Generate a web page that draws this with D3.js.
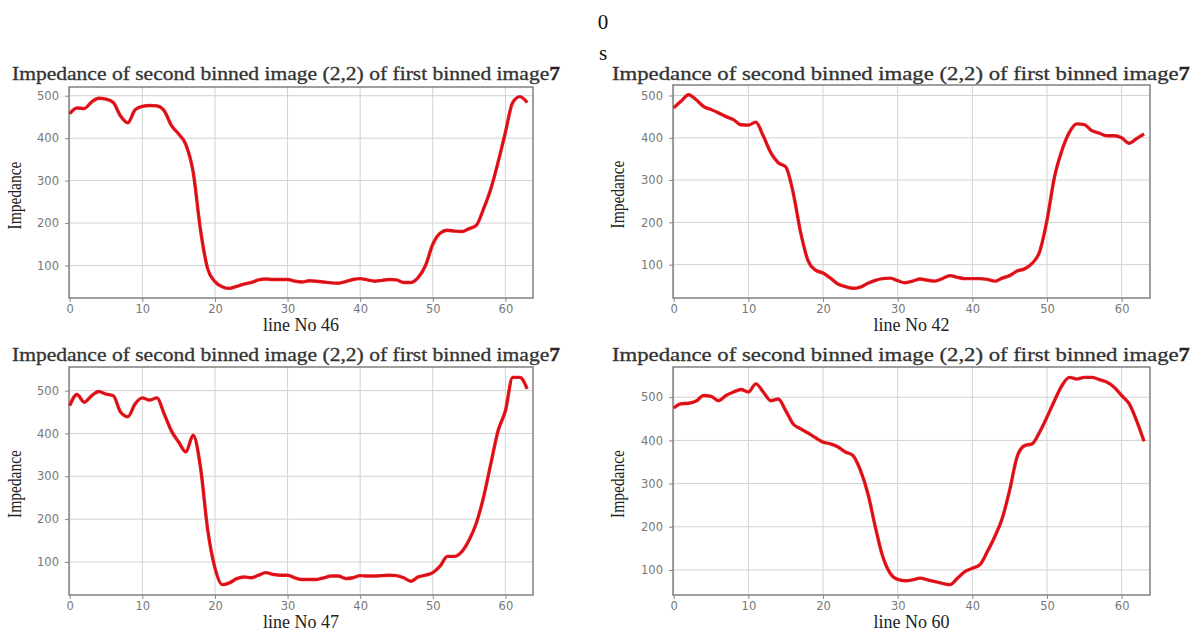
<!DOCTYPE html>
<html>
<head>
<meta charset="utf-8">
<script src="https://cdn.jsdelivr.net/npm/d3@7"></script>
<style>
  body { margin: 0; background: #fff; }
  svg { display: block; }
</style>
</head>
<body>
<svg id="chart" width="1203" height="637"></svg>
<script>
// impedance per line index (0..63)
const line46 = [458, 471, 470, 485, 494, 492, 484, 452, 436, 467, 475, 477, 476, 465, 430, 410, 385, 320, 185, 92, 62, 50, 46, 51, 56, 60, 66, 68, 67, 67, 67, 63, 61, 64, 63, 61, 59, 58, 62, 67, 69, 66, 63, 65, 67, 66, 60, 60, 72, 100, 150, 176, 183, 181, 180, 187, 195, 234, 281, 344, 414, 484, 498, 484]
const line42 = [471, 487, 502, 490, 474, 467, 459, 450, 443, 431, 430, 437, 404, 365, 341, 331, 270, 176, 109, 87, 80, 68, 54, 48, 44, 47, 56, 63, 67, 68, 62, 57, 61, 66, 63, 61, 67, 74, 70, 67, 67, 67, 65, 61, 68, 74, 85, 90, 103, 130, 205, 307, 370, 413, 433, 431, 417, 411, 405, 405, 400, 387, 398, 409]
const line47 = [465, 491, 473, 488, 498, 492, 488, 450, 439, 469, 483, 478, 483, 446, 406, 380, 357, 396, 322, 175, 86, 47, 51, 61, 65, 63, 69, 75, 71, 69, 69, 63, 59, 59, 59, 63, 67, 67, 61, 63, 68, 67, 67, 68, 69, 68, 63, 55, 65, 69, 75, 90, 113, 113, 124, 151, 191, 252, 330, 407, 453, 531, 531, 504]
const line60 = [475, 485, 486, 491, 504, 502, 492, 504, 512, 518, 512, 531, 512, 492, 496, 469, 438, 427, 417, 406, 396, 392, 385, 373, 365, 331, 277, 200, 131, 92, 78, 75, 77, 81, 77, 73, 69, 66, 81, 96, 104, 112, 142, 177, 219, 285, 362, 388, 392, 419, 454, 492, 527, 546, 542, 546, 546, 541, 535, 523, 504, 485, 446, 398]

const lineNames = ["line No 46", "line No 42", "line No 47", "line No 60"]
const xTicks = [0, 10, 20, 30, 40, 50, 60]
const yTicks = [100, 200, 300, 400, 500]
const titleText = "Impedance of second binned image (2,2) of first binned image"

// plot boxes, one per panel (top-left, top-right, bottom-left, bottom-right)
const layout = [
    { x0: 69, x1: 533, y0: 87, y1: 298, t0: 12, t1: 560, ty: 80, yl: 15 },
    { x0: 673, x1: 1150, y0: 85, y1: 298, t0: 612, t1: 1190, ty: 80, yl: 618 },
    { x0: 69, x1: 533, y0: 367, y1: 595, t0: 12, t1: 560, ty: 361, yl: 15 },
    { x0: 673, x1: 1150, y0: 367, y1: 595, t0: 612, t1: 1190, ty: 361, yl: 618 }
]
const series = [line46, line42, line47, line60]

const svg = d3.select("#chart")
svg.append("rect").attr("width", 1203).attr("height", 637).attr("fill", "#fff")

// stray "0" and "s" at the top of the page
svg.append("text").attr("x", 603).attr("y", 29).attr("text-anchor", "middle")
    .attr("font-family", "Liberation Serif").attr("font-size", 21).attr("fill", "#111").text("0")
svg.append("text").attr("x", 603).attr("y", 60).attr("text-anchor", "middle")
    .attr("font-family", "Liberation Serif").attr("font-size", 21).attr("fill", "#111").text("s")

series.forEach((values, i) => {
    let box = layout[i]
    let lo = d3.min(values), hi = d3.max(values)
    let pad = (hi - lo) * 0.05
    let x = d3.scaleLinear().domain([-0.1, 63.8]).range([box.x0, box.x1])
    let y = d3.scaleLinear().domain([lo - pad, hi + pad]).range([box.y1, box.y0])
    let g = svg.append("g")

    // grid
    g.append("g").selectAll("line").data(xTicks).enter().append("line")
        .attr("x1", d => x(d)).attr("x2", d => x(d))
        .attr("y1", box.y0).attr("y2", box.y1)
        .attr("stroke", "#d2d2d2").attr("stroke-width", 1)
    g.append("g").selectAll("line").data(yTicks).enter().append("line")
        .attr("x1", box.x0).attr("x2", box.x1)
        .attr("y1", d => y(d)).attr("y2", d => y(d))
        .attr("stroke", "#d2d2d2").attr("stroke-width", 1)

    // axes
    let xAxis = g.append("g").attr("transform", `translate(0,${box.y1})`)
        .call(d3.axisBottom(x).tickValues(xTicks).tickSize(4).tickPadding(3))
    let yAxis = g.append("g").attr("transform", `translate(${box.x0},0)`)
        .call(d3.axisLeft(y).tickValues(yTicks).tickSize(4).tickPadding(6))
    ;[xAxis, yAxis].forEach(a => {
        a.select(".domain").remove()
        a.selectAll(".tick line").attr("stroke", "#888")
        a.selectAll(".tick text").attr("fill", "#777")
            .attr("font-family", "DejaVu Sans").attr("font-size", 11.5)
    })

    // frame
    g.append("rect").attr("x", box.x0).attr("y", box.y0)
        .attr("width", box.x1 - box.x0).attr("height", box.y1 - box.y0)
        .attr("fill", "none").attr("stroke", "#808080").attr("stroke-width", 1.5)

    // the curve
    let line = d3.line().x((d, j) => x(j)).y(d => y(d)).curve(d3.curveMonotoneX)
    g.append("path").datum(values).attr("d", line)
        .attr("fill", "none").attr("stroke", "#ec1820").attr("stroke-width", 3.4)
        .attr("stroke-linejoin", "round")
    g.append("path").datum(values).attr("d", line)
        .attr("fill", "none").attr("stroke", "#c40c12").attr("stroke-width", 1)
        .attr("stroke-linejoin", "round")

    // title
    let t = g.append("text").attr("x", box.t0).attr("y", box.ty)
        .attr("font-family", "Liberation Serif").attr("font-size", 18).attr("fill", "#333")
        .attr("stroke", "#333").attr("stroke-width", 0.3)
        .attr("textLength", box.t1 - box.t0).attr("lengthAdjust", "spacingAndGlyphs")
    t.append("tspan").text(titleText)
    t.append("tspan").attr("font-weight", "bold").attr("fill", "#222").text("7")

    // axis labels
    g.append("text").attr("x", (box.x0 + box.x1) / 2).attr("y", box.y1 + 33)
        .attr("text-anchor", "middle").attr("font-family", "Liberation Serif")
        .attr("font-size", 18).attr("fill", "#222").text(lineNames[i])
    let cy = (box.y0 + box.y1) / 2 + 3
    g.append("text").attr("transform", `translate(${box.yl + 6},${cy}) rotate(-90)`)
        .attr("text-anchor", "middle").attr("font-family", "Liberation Serif")
        .attr("font-size", 19).attr("fill", "#222")
        .attr("textLength", 68).attr("lengthAdjust", "spacingAndGlyphs")
        .text("Impedance")
})
</script>
</body>
</html>
